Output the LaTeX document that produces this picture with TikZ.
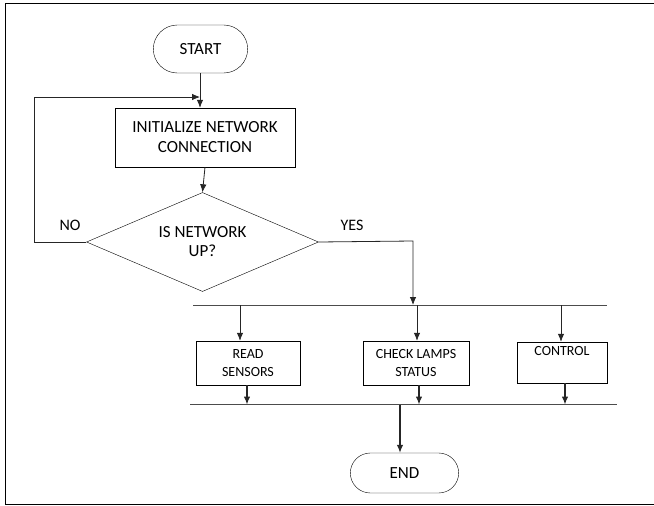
\documentclass[tikz,border=0pt]{standalone}
\usepackage{fontspec}
\setmainfont{Carlito}
\usetikzlibrary{arrows,arrows.meta,shapes.geometric,shapes.misc,calc}
\tikzset{>={Latex[length=8pt,width=6.5pt]}}
\tikzset{
	term/.style={draw, rounded rectangle, minimum width=101pt, minimum height=48pt, font=\fontsize{17}{20}\selectfont},
	proc/.style={draw, rectangle, minimum width=180pt, minimum height=59pt, align=center, font=\fontsize{17}{20}\selectfont},
	task/.style={draw, rectangle, minimum height=44pt, align=center, font=\fontsize{14}{18}\selectfont},
	flow/.style={->, thick, black!85},
	bus/.style={thick, black!70}
}

\begin{document}
\begin{tikzpicture}[x=1pt,y=-1pt]

\useasboundingbox (0,0) rectangle (654,506);

% frame
\draw[thick] (660,3.5) -- (5,3.5) -- (5,504) -- (660,504);

\node[term] (start) at (200.5,49){START};
\node[proc] (init) at (205,137.5){INITIALIZE NETWORK\\CONNECTION};
\node[draw, diamond, aspect=2.35, minimum width=232pt, minimum height=99pt, inner sep=0pt, align=center, font=\fontsize{17}{19}\selectfont] (check) at (202.5,242){IS NETWORK\\UP?};

\node[task, minimum width=104pt] (read) at (248,363){READ\\SENSORS};
\node[task, minimum width=106pt] (lamps) at (416,363){CHECK LAMPS\\STATUS};
\node[task, minimum width=90pt, minimum height=41pt] (ctrl) at (562,362.5){CONTROL\\\strut};

\node[term, minimum width=115pt, minimum height=40pt] (end) at (404.5,473){END};

% split and join lines
\coordinate (busA1) at (193,305);
\coordinate (busA2) at (607,305);
\coordinate (busB1) at (190,404.5);
\coordinate (busB2) at (617,404.5);
\draw[bus] (busA1) -- (busA2);
\draw[bus] (busB1) -- (busB2);

\coordinate (loop) at (200,97);
\coordinate (noturn) at (34,242);
\coordinate (yesturn) at (413,241);
\draw[flow] (start.south -| loop) -- (init.north -| loop);
\draw[flow] (check.west) -- (noturn) |- (loop);
\draw[flow] (init.south) -- (check.north);
\draw[flow] (check.east) -- (yesturn) -- (yesturn |- busA1);

\node (no) at (70,225){\fontsize{16}{18}\selectfont NO};
\node (yes) at (352,225){\fontsize{16}{18}\selectfont YES};

\foreach \x/\b in {240/read,417/lamps,561/ctrl}{
	\coordinate (top\b) at (\x,305);
	\draw[flow] (top\b) -- (top\b |- \b.north);
}
\foreach \x/\b in {247/read,419/lamps,565/ctrl}{
	\coordinate (bot\b) at (\x,404.5);
	\draw[flow, very thick] (bot\b |- \b.south) -- (bot\b);
}
\coordinate (join) at (400,404.5);
\draw[flow, very thick] (join) -- (join |- end.north);

\end{tikzpicture}
\end{document}
